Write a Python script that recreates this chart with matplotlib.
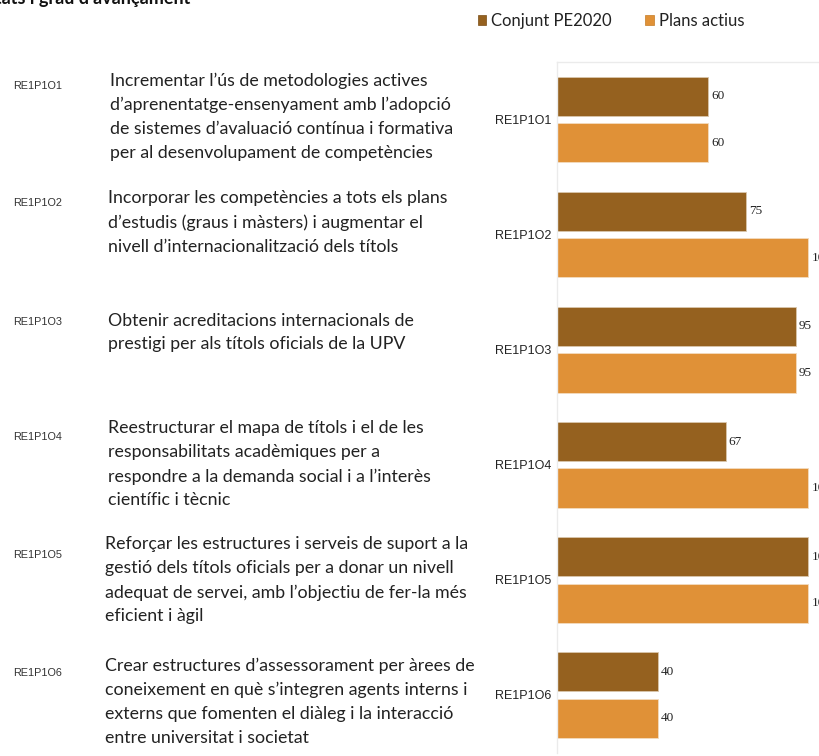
import matplotlib
matplotlib.use("Agg")
import matplotlib.pyplot as plt
from matplotlib.patches import Patch
import numpy as np

codes = ["RE1P1O1", "RE1P1O2", "RE1P1O3", "RE1P1O4", "RE1P1O5", "RE1P1O6"]
descriptions = [
    "Incrementar l\u2019\u00fas de metodologies actives\nd\u2019aprenentatge-ensenyament amb l\u2019adopci\u00f3\nde sistemes d\u2019avaluaci\u00f3 cont\u00ednua i formativa\nper al desenvolupament de compet\u00e8ncies",
    "Incorporar les compet\u00e8ncies a tots els plans\nd\u2019estudis (graus i m\u00e0sters) i augmentar el\nnivell d\u2019internacionalitzaci\u00f3 dels t\u00edtols",
    "Obtenir acreditacions internacionals de\nprestigi per als t\u00edtols oficials de la UPV",
    "Reestructurar el mapa de t\u00edtols i el de les\nresponsabilitats acad\u00e8miques per a\nrespondre a la demanda social i a l\u2019inter\u00e8s\ncient\u00edfic i t\u00e8cnic",
    "Refor\u00e7ar les estructures i serveis de suport a la\ngesti\u00f3 dels t\u00edtols oficials per a donar un nivell\nadequat de servei, amb l\u2019objectiu de fer-la m\u00e9s\neficient i \u00e0gil",
    "Crear estructures d\u2019assessorament per \u00e0rees de\nconeixement en qu\u00e8 s\u2019integren agents interns i\nexterns que fomenten el di\u00e0leg i la interacci\u00f3\nentre universitat i societat",
]
conjunt_pe2020 = [60, 75, 95, 67, 100, 40]
plans_actius = [60, 100, 95, 100, 100, 40]
series_names = ["Conjunt PE2020", "Plans actius"]
title = "Resultats i grau d\u2019avan\u00e7ament"

BROWN = "#95611f"
ORANGE = "#e09137"

W, H = 820, 756
fig = plt.figure(figsize=(W / 100, H / 100), dpi=100)
fig.patch.set_facecolor("white")

def fx(x):
    return x / W

def fy(y):
    return 1 - y / H

# axes placement
ax_left, ax_top, ax_bottom = 557, 62, 752.5
ax = fig.add_axes([fx(ax_left), fy(ax_bottom), (W - ax_left) / W, (ax_bottom - ax_top) / H])
px_per_unit = (808.5 - ax_left) / 100.0
ax.set_xlim(0, (W - ax_left) / px_per_unit)
ax.set_ylim(len(codes) - 0.5, -0.5)

y = np.arange(len(codes))
off = 0.202
h = 0.34
b1 = ax.barh(y - off, conjunt_pe2020, height=h, color=BROWN, edgecolor="#d9c6ad", linewidth=0.6)
b2 = ax.barh(y + off, plans_actius, height=h, color=ORANGE, edgecolor="#f3dcc0", linewidth=0.6)

for bars, vals in ((b1, conjunt_pe2020), (b2, plans_actius)):
    for rect, v in zip(bars, vals):
        ax.annotate(str(v), xy=(rect.get_width(), rect.get_y() + rect.get_height() / 2),
                    xytext=(2.2, 0), textcoords="offset points", va="center", ha="left",
                    fontsize=9.5, family="Liberation Serif", color="#222222",
                    annotation_clip=False)

ax.set_yticks(y)
ax.set_yticklabels(codes, family="Liberation Sans", fontsize=9, color="#222222")
ax.tick_params(axis="y", length=0, pad=4)
ax.tick_params(axis="x", bottom=False, labelbottom=False)
for s in ("right", "bottom"):
    ax.spines[s].set_visible(False)
for s in ("left", "top"):
    ax.spines[s].set_color("#ebebeb")
    ax.spines[s].set_linewidth(1.0)

# legend
handles = [Patch(facecolor=BROWN, edgecolor="#7a4d15", linewidth=0.5),
           Patch(facecolor=ORANGE, edgecolor="#c57b25", linewidth=0.5)]
leg = fig.legend(handles, series_names, loc="upper left",
                 bbox_to_anchor=(fx(478), fy(13)), ncol=2, frameon=False,
                 prop={"family": "Lato", "size": 12}, handlelength=0.5, handleheight=0.5,
                 handletextpad=0.3, columnspacing=2.0, borderaxespad=0, borderpad=0)
for t in leg.get_texts():
    t.set_color("#222222")

# title (cut off at left)
fig.text(fx(190), fy(4), title, ha="right", va="baseline", fontsize=13,
         family="Lato", fontweight="bold", color="#111111")

# left codes and descriptions
code_y = [86, 203, 322, 437, 555, 673]
desc_y = [80, 198, 320, 428, 544, 665]
desc_x = [110, 108, 108, 108, 105, 105]
for c, d, cy, dy, dx in zip(codes, descriptions, code_y, desc_y, desc_x):
    fig.text(fx(13), fy(cy), c, ha="left", va="center", fontsize=7.8,
             family="Liberation Sans", color="#333333")
    fig.text(fx(dx), fy(dy - 7.5), d, ha="left", va="top", fontsize=12.8,
             family="Lato", color="#222222", linespacing=1.6)

fig.savefig("out.png", dpi=100, facecolor="white")
